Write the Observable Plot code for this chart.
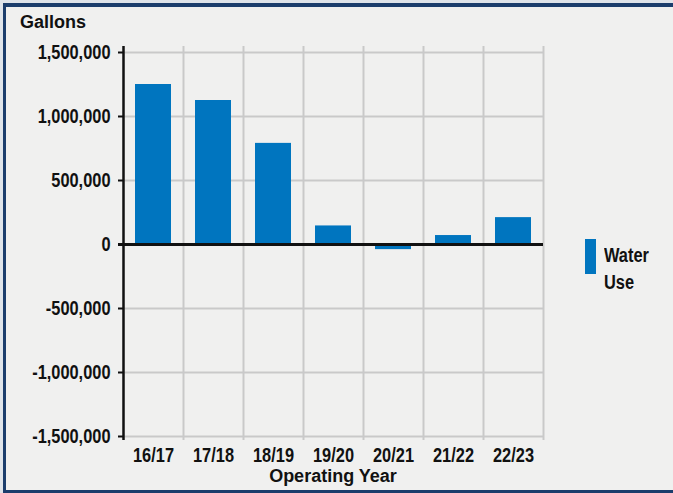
<!DOCTYPE html>
<html>
<head>
<meta charset="utf-8">
<script src="https://cdn.jsdelivr.net/npm/d3@7"></script>
<script src="https://cdn.jsdelivr.net/npm/@observablehq/plot@0.6"></script>
<style>
  html, body { margin: 0; padding: 0; }
  body { width: 673px; height: 493px; background: #dfe4ea; position: relative; overflow: hidden; }
  #frame {
    position: absolute; left: 3px; top: 3px; width: 680px; height: 490px;
    box-sizing: border-box; background: #f0f0ef;
    border-top: 4px solid #1b3d6c; border-left: 3px solid #1b3d6c; border-bottom: 3px solid #1b3d6c;
  }
  #chart { position: absolute; left: 0; top: 0; }
  .title { position: absolute; font-family: "Liberation Sans", Arial, sans-serif; font-weight: bold; color: #111; }
  #ytitle { left: 20px; top: 12px; font-size: 18px; }
  #xtitle { left: 123px; width: 420px; text-align: center; top: 466px; font-size: 18px; }
  #legend { position: absolute; left: 585px; top: 239px; }
  #legend .sw { position: absolute; left: 0; top: 0; width: 11px; height: 35px; }
  #legend .lbl { position: absolute; left: 19px; top: 3px; font-family: "Liberation Sans", Arial, sans-serif; font-weight: bold; font-size: 20px; line-height: 27px; color: #111; transform: scaleX(0.82); transform-origin: left center; white-space: nowrap; }
</style>
</head>
<body>
<div id="frame"></div>
<div id="chart"></div>
<div class="title" id="ytitle">Gallons</div>
<div class="title" id="xtitle">Operating Year</div>
<div id="legend"><div class="sw"></div><div class="lbl"></div></div>
<script>
const years = ["16/17", "17/18", "18/19", "19/20", "20/21", "21/22", "22/23"];
const waterUse = [1250000, 1125000, 790000, 145000, -40000, 70000, 210000];
const yTicks = [-1500000, -1000000, -500000, 0, 500000, 1000000, 1500000];
const seriesName = "Water Use";
const barColor = "#0075bf";
const gridColor = "#c9c9c9";

const data = years.map((y, i) => ({year: y, i, value: waterUse[i]}));
const boundaries = d3.range(1, years.length + 1);
const centers = years.map((_, i) => i + 0.5);

const axisFont = '"Liberation Sans", Arial, sans-serif';

const chart = Plot.plot({
  width: 673,
  height: 493,
  marginLeft: 123,
  marginRight: 130,
  marginTop: 52,
  marginBottom: 57,
  style: {background: "transparent", color: "#111", fontFamily: axisFont, fontWeight: "bold", fontSize: "20px"},
  x: {type: "linear", domain: [0, years.length]},
  y: {domain: [-1500000, 1500000]},
  marks: [
    Plot.ruleY(yTicks, {stroke: gridColor, strokeWidth: 2}),
    Plot.ruleX(boundaries, {stroke: gridColor, strokeWidth: 2, insetTop: -6, insetBottom: -4}),
    Plot.rectY(data, {x1: "i", x2: d => d.i + 1, y: "value", insetLeft: 12, insetRight: 12, fill: barColor}),
    Plot.ruleY([0], {stroke: "#111", strokeWidth: 3, insetLeft: -5}),
    Plot.ruleX([0], {stroke: "#111", strokeWidth: 2.5, insetTop: -6, insetBottom: -4}),
    Plot.axisY(yTicks, {tickSize: 5, tickPadding: 8, strokeWidth: 2, tickFormat: d => d.toLocaleString("en-US"), label: null, fontSize: 20}),
    Plot.axisX(centers, {tickSize: 0, tickPadding: 11, tickFormat: d => years[Math.floor(d)], label: null, fontSize: 20})
  ]
});
// condense the tick labels horizontally (narrow bold face of the original)
chart.querySelectorAll('g[aria-label="y-axis tick label"] text, g[aria-label="x-axis tick label"] text').forEach(t => {
  const tr = t.getAttribute("transform") || "";
  t.setAttribute("transform", tr + " scale(0.82,1)");
});
document.getElementById("chart").appendChild(chart);
document.querySelector("#legend .sw").style.background = barColor;
document.querySelector("#legend .lbl").innerHTML = seriesName.split(" ").join("<br>");
</script>
</body>
</html>
